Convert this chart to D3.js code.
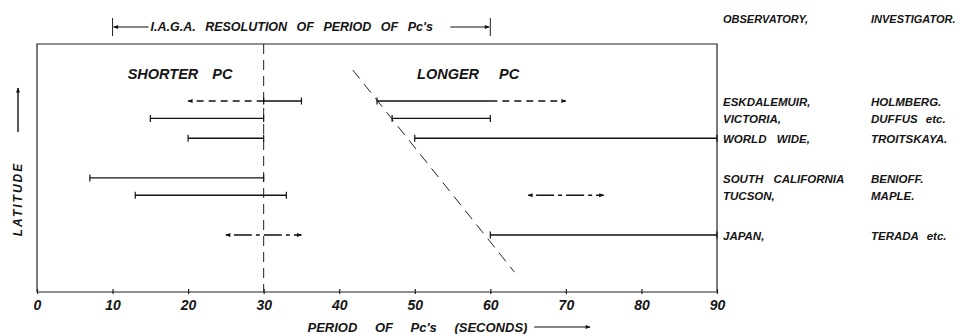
<!DOCTYPE html>
<html>
<head>
<meta charset="utf-8">
<script src="https://cdn.jsdelivr.net/npm/d3@7"></script>
<style>
  body { margin: 0; background: #fff; }
  svg text { font-family: "Liberation Sans", Arial, sans-serif; font-weight: bold; font-style: italic; fill: #151515; }
  .axis path, .axis line { stroke: #222; stroke-width: 1.2; }
</style>
</head>
<body>
<svg id="chart" width="969" height="334"></svg>
<script>
// rows, top to bottom (y value is relative latitude, 0-100)
const stations = ["ESKDALEMUIR,", "VICTORIA,", "WORLD WIDE,", "SOUTH CALIFORNIA", "TUCSON,", "JAPAN,"];
const investigators = ["HOLMBERG.", "DUFFUS etc.", "TROITSKAYA.", "BENIOFF.", "MAPLE.", "TERADA etc."];
const rowLatitude = [77, 70, 62, 46, 39, 23];

// period ranges in seconds: [row, from, to]
const solidRanges = [
  [0, 30, 35], [1, 15, 30], [2, 20, 30], [3, 7, 30], [4, 13, 33],
  [0, 45, 60], [1, 47, 60], [2, 50, 90], [5, 60, 90]
];
// dashed extensions: [row, from, to] arrow at "to"
const dashedArrows = [[0, 30, 20], [0, 60, 70]];
// dash-dot double arrows: [row, from, to]
const dashDotArrows = [[5, 25, 35], [4, 65, 75]];

const xTicks = [0, 10, 20, 30, 40, 50, 60, 70, 80, 90];
const shortLongBoundary = 30;
// sloping boundary of the longer pc: [period, latitude]
const longerBoundary = [[41.8, 89.5], [63.2, 8]];
const iagaRange = [10, 60];

var svg = d3.select("#chart"),
  margin = { top: 44, right: 252, bottom: 42, left: 37 },
  width = +svg.attr("width") - margin.left - margin.right,
  height = +svg.attr("height") - margin.top - margin.bottom;

var x = d3.scaleLinear().domain([0, 90]).range([0, width]),
  y = d3.scaleLinear().domain([0, 100]).range([height, 0]);

var defs = svg.append("defs");
defs.append("marker")
  .attr("id", "head")
  .attr("viewBox", "0 0 10 10")
  .attr("refX", 9).attr("refY", 5)
  .attr("markerWidth", 10).attr("markerHeight", 5)
  .attr("markerUnits", "userSpaceOnUse")
  .attr("orient", "auto-start-reverse")
  .append("path")
  .attr("d", "M0,1L10,5L0,9Z")
  .attr("fill", "#111");

var g = svg.append("g")
  .attr("transform", `translate(${margin.left},${margin.top})`);

// frame
g.append("path")
  .attr("d", `M0,${height}V0H${width}V${height}`)
  .attr("fill", "none")
  .attr("stroke", "#222")
  .attr("stroke-width", 1.2);

g.append("g")
  .attr("class", "axis")
  .attr("transform", `translate(0,${height})`)
  .call(d3.axisBottom(x).tickValues(xTicks).tickSize(3).tickPadding(5))
  .call(a => a.selectAll(".tick line").attr("y1", -3).attr("y2", 2))
  .call(a => a.select(".domain").attr("d", `M0,0H${width}`))
  .selectAll("text")
  .attr("font-size", 14)
  .attr("font-family", null);

// 30 s boundary
g.append("line")
  .attr("x1", x(shortLongBoundary)).attr("x2", x(shortLongBoundary))
  .attr("y1", 0).attr("y2", height)
  .attr("stroke", "#222")
  .attr("stroke-width", 1)
  .attr("stroke-dasharray", "10,6");

// sloping boundary
g.append("line")
  .attr("x1", x(longerBoundary[0][0])).attr("y1", y(longerBoundary[0][1]))
  .attr("x2", x(longerBoundary[1][0])).attr("y2", y(longerBoundary[1][1]))
  .attr("stroke", "#222")
  .attr("stroke-width", 1)
  .attr("stroke-dasharray", "11,7");

// solid ranges with end ticks (no tick where a dashed extension carries on)
var continues = (row, v) => dashedArrows.some(a => a[0] === row && a[1] === v);

var ranges = g.selectAll(".range")
  .data(solidRanges)
  .enter()
  .append("g")
  .attr("class", "range")
  .attr("transform", d => `translate(0,${y(rowLatitude[d[0]])})`);

ranges.append("line")
  .attr("x1", d => x(d[1])).attr("x2", d => x(d[2]))
  .attr("stroke", "#111").attr("stroke-width", 1.4);

ranges.selectAll(".cap")
  .data(d => continues(d[0], d[2]) ? [d[1]] : [d[1], d[2]])
  .enter()
  .append("line")
  .attr("x1", d => x(d)).attr("x2", d => x(d))
  .attr("y1", -3.5).attr("y2", 3.5)
  .attr("stroke", "#111").attr("stroke-width", 1.2);

g.selectAll(".dashed")
  .data(dashedArrows)
  .enter()
  .append("line")
  .attr("x1", d => x(d[1])).attr("x2", d => x(d[2]))
  .attr("y1", d => y(rowLatitude[d[0]])).attr("y2", d => y(rowLatitude[d[0]]))
  .attr("stroke", "#111").attr("stroke-width", 1.4)
  .attr("stroke-dasharray", "7,5")
  .attr("marker-end", "url(#head)");

g.selectAll(".dashdot")
  .data(dashDotArrows)
  .enter()
  .append("line")
  .attr("x1", d => x(d[1])).attr("x2", d => x(d[2]))
  .attr("y1", d => y(rowLatitude[d[0]])).attr("y2", d => y(rowLatitude[d[0]]))
  .attr("stroke", "#111").attr("stroke-width", 1.4)
  .attr("stroke-dasharray", "4,4,18,4")
  .attr("marker-start", "url(#head)")
  .attr("marker-end", "url(#head)");

// region labels
g.append("text")
  .attr("x", x(12)).attr("y", y(88))
  .attr("dy", "0.35em")
  .attr("font-size", 14.5)
  .style("word-spacing", "10px")
  .text("SHORTER PC");
g.append("text")
  .attr("x", x(50.3)).attr("y", y(88))
  .attr("dy", "0.35em")
  .attr("font-size", 14.5)
  .style("word-spacing", "16px")
  .text("LONGER PC");

// station / investigator list
var right = width + 6,
  right2 = width + 154;
g.append("text")
  .attr("x", right).attr("y", -25)
  .attr("dy", "0.35em").attr("font-size", 11)
  .text("OBSERVATORY,");
g.append("text")
  .attr("x", right2).attr("y", -25)
  .attr("dy", "0.35em").attr("font-size", 11)
  .text("INVESTIGATOR.");

g.selectAll(".station")
  .data(stations)
  .enter()
  .append("text")
  .attr("x", right)
  .attr("y", (d, i) => y(rowLatitude[i]) + 1)
  .attr("dy", "0.35em")
  .attr("font-size", 11.5)
  .style("word-spacing", "7px")
  .text(d => d);

g.selectAll(".investigator")
  .data(investigators)
  .enter()
  .append("text")
  .attr("x", right2)
  .attr("y", (d, i) => y(rowLatitude[i]) + 1)
  .attr("dy", "0.35em")
  .attr("font-size", 11.5)
  .style("word-spacing", "5px")
  .text(d => d);

// I.A.G.A. range above the frame
var iy = -17;
g.selectAll(".iagaBar")
  .data(iagaRange)
  .enter()
  .append("line")
  .attr("x1", d => x(d)).attr("x2", d => x(d))
  .attr("y1", iy - 9).attr("y2", iy + 9)
  .attr("stroke", "#222").attr("stroke-width", 1);
g.append("line")
  .attr("x1", x(iagaRange[0]) + 36).attr("x2", x(iagaRange[0]) + 1)
  .attr("y1", iy).attr("y2", iy)
  .attr("stroke", "#111").attr("stroke-width", 1.2)
  .attr("marker-end", "url(#head)");
g.append("line")
  .attr("x1", x(iagaRange[1]) - 40).attr("x2", x(iagaRange[1]) - 1)
  .attr("y1", iy).attr("y2", iy)
  .attr("stroke", "#111").attr("stroke-width", 1.2)
  .attr("marker-end", "url(#head)");
g.append("text")
  .attr("x", x(iagaRange[0]) + 38)
  .attr("y", iy)
  .attr("dy", "0.35em")
  .attr("font-size", 12.5)
  .style("word-spacing", "6px")
  .text("I.A.G.A. RESOLUTION OF PERIOD OF Pc's");

// x title
var ty = height + 35;
g.append("text")
  .attr("x", x(35.8))
  .attr("y", ty)
  .attr("dy", "0.35em")
  .attr("font-size", 13)
  .style("word-spacing", "14px")
  .text("PERIOD OF Pc's (SECONDS)");
g.append("line")
  .attr("x1", x(65.8)).attr("x2", x(73.2))
  .attr("y1", ty).attr("y2", ty)
  .attr("stroke", "#111").attr("stroke-width", 1.2)
  .attr("marker-end", "url(#head)");

// y title
svg.append("text")
  .attr("transform", "translate(22,199) rotate(-90)")
  .attr("text-anchor", "middle")
  .attr("font-size", 12)
  .attr("letter-spacing", 2)
  .text("LATITUDE");
svg.append("line")
  .attr("x1", 18).attr("x2", 18)
  .attr("y1", 132).attr("y2", 88)
  .attr("stroke", "#111").attr("stroke-width", 1.4)
  .attr("marker-end", "url(#head)");
</script>
</body>
</html>
